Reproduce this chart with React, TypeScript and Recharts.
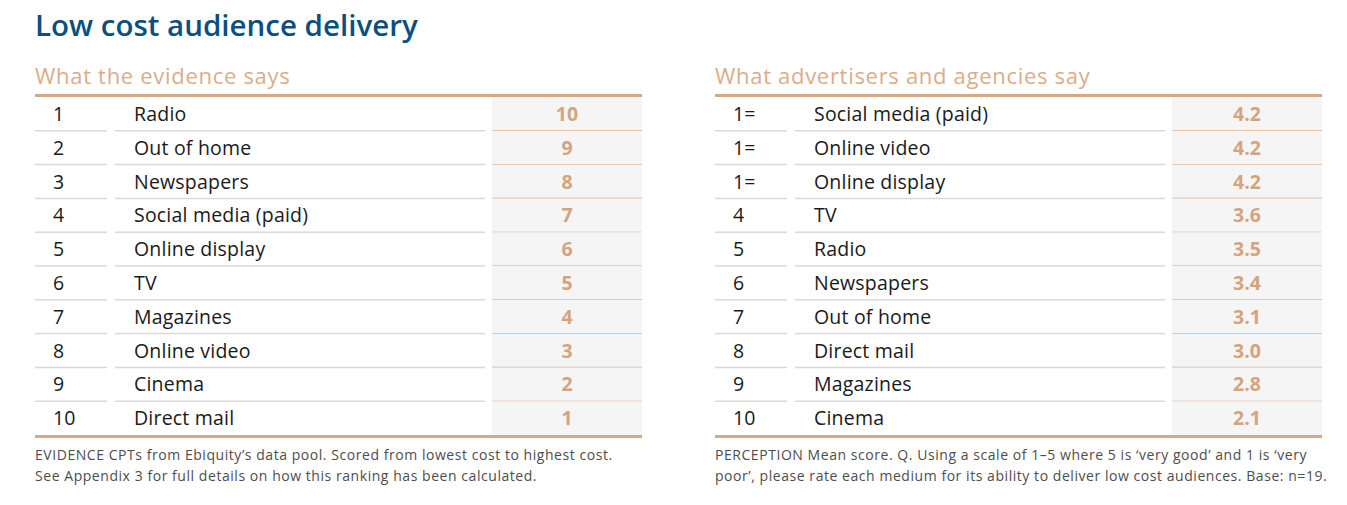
import { Bar, BarChart, XAxis, YAxis } from 'recharts';

const FONT = '"Open Sans", Lato, sans-serif';
const TAN = '#d5a886';
const GREY_LINE = '#d9d9d9';

const evidenceRanks = ['1', '2', '3', '4', '5', '6', '7', '8', '9', '10'];
const evidenceMedia = [
  'Radio',
  'Out of home',
  'Newspapers',
  'Social media (paid)',
  'Online display',
  'TV',
  'Magazines',
  'Online video',
  'Cinema',
  'Direct mail',
];
const evidenceScores = [10, 9, 8, 7, 6, 5, 4, 3, 2, 1];

const perceptionRanks = ['1=', '1=', '1=', '4', '5', '6', '7', '8', '9', '10'];
const perceptionMedia = [
  'Social media (paid)',
  'Online video',
  'Online display',
  'TV',
  'Radio',
  'Newspapers',
  'Out of home',
  'Direct mail',
  'Magazines',
  'Cinema',
];
const perceptionScores = [4.2, 4.2, 4.2, 3.6, 3.5, 3.4, 3.1, 3.0, 2.8, 2.1];

const TABLE_W = 607;
const TABLE_H = 338;
const LABEL_W = 457;

interface Row {
  rank: string;
  name: string;
  score: number;
}

function RowTick(props: any) {
  const { y, payload, rows, bandH } = props;
  const row: Row = rows[payload.index];
  const last = payload.index === rows.length - 1;
  const bottom = y + bandH / 2;
  return (
    <g>
      <text x={18} y={y} dy="0.36em" fontSize={19.5} letterSpacing={0.2} fill="#1a1a1a" fontFamily={FONT}>
        {row.rank}
      </text>
      <text x={99} y={y} dy="0.36em" fontSize={19.5} letterSpacing={0.2} fill="#1a1a1a" fontFamily={FONT}>
        {row.name}
      </text>
      {!last && (
        <>
          <line x1={0} x2={72} y1={bottom} y2={bottom} stroke={GREY_LINE} strokeWidth={1.5} />
          <line x1={80} x2={450} y1={bottom} y2={bottom} stroke={GREY_LINE} strokeWidth={1.5} />
        </>
      )}
    </g>
  );
}

function ScoreCell(props: any) {
  const { y, height, background, payload, index, decimals, count } = props;
  const bx = background.x;
  const bw = background.width;
  const last = index === count - 1;
  return (
    <g>
      <rect x={bx} y={y} width={bw} height={height} fill="#f5f5f5" />
      {!last && (
        <line x1={bx} x2={bx + bw} y1={y + height} y2={y + height} stroke={TAN} strokeWidth={1.5} />
      )}
      <text
        x={bx + bw / 2}
        y={y + height / 2}
        dy="0.36em"
        textAnchor="middle"
        fontSize={19.5}
        fontWeight={700}
        fill="#d4a47f"
        fontFamily={FONT}
      >
        {payload.score.toFixed(decimals)}
      </text>
    </g>
  );
}

function RankTable({ left, heading, ranks, media, scores, decimals, note }: {
  left: number;
  heading: string;
  ranks: string[];
  media: string[];
  scores: number[];
  decimals: number;
  note: React.ReactNode;
}) {
  const rows: Row[] = media.map((name, i) => ({ rank: ranks[i], name, score: scores[i] }));
  const bandH = TABLE_H / rows.length;
  return (
    <div style={{ position: 'absolute', left, top: 0, width: TABLE_W }}>
      <div
        style={{
          position: 'absolute',
          top: 60,
          left: 0,
          fontSize: 22,
          letterSpacing: 0.7,
          color: '#d8ae8a',
          fontFamily: FONT,
          whiteSpace: 'nowrap',
        }}
      >
        {heading}
      </div>
      <div
        style={{
          position: 'absolute',
          top: 94,
          left: 0,
          width: TABLE_W,
          borderTop: `3px solid ${TAN}`,
          borderBottom: `3px solid ${TAN}`,
        }}
      >
        <BarChart
          width={TABLE_W}
          height={TABLE_H}
          data={rows}
          layout="vertical"
          margin={{ top: 0, right: 0, bottom: 0, left: 0 }}
          barCategoryGap={0}
        >
          <XAxis type="number" hide domain={[0, 'dataMax']} />
          <YAxis
            type="category"
            dataKey="name"
            width={LABEL_W}
            axisLine={false}
            tickLine={false}
            interval={0}
            tick={<RowTick rows={rows} bandH={bandH} />}
          />
          <Bar
            dataKey="score"
            isAnimationActive={false}
            shape={<ScoreCell decimals={decimals} count={rows.length} />}
          />
        </BarChart>
      </div>
      <div
        style={{
          position: 'absolute',
          top: 444,
          left: 0,
          width: 640,
          fontSize: 14,
          letterSpacing: 0.55,
          lineHeight: '21px',
          color: '#4d4d4d',
          fontFamily: FONT,
          whiteSpace: 'nowrap',
        }}
      >
        {note}
      </div>
    </div>
  );
}

export default function App() {
  return (
    <div
      style={{
        position: 'absolute',
        left: 0,
        top: 0,
        width: 1347,
        height: 505,
        background: '#ffffff',
        fontFamily: FONT,
      }}
    >
      <div
        style={{
          position: 'absolute',
          left: 35,
          top: 4,
          fontSize: 29.5,
          fontWeight: 600,
          color: '#0b4f80',
          whiteSpace: 'nowrap',
        }}
      >
        Low cost audience delivery
      </div>
      <RankTable
        left={35}
        heading="What the evidence says"
        ranks={evidenceRanks}
        media={evidenceMedia}
        scores={evidenceScores}
        decimals={0}
        note={
          <>
            EVIDENCE CPTs from Ebiquity’s data pool. Scored from lowest cost to highest cost.
            <br />
            See Appendix 3 for full details on how this ranking has been calculated.
          </>
        }
      />
      <RankTable
        left={715}
        heading="What advertisers and agencies say"
        ranks={perceptionRanks}
        media={perceptionMedia}
        scores={perceptionScores}
        decimals={1}
        note={
          <>
            PERCEPTION Mean score. Q. Using a scale of 1–5 where 5 is ‘very good’ and 1 is ‘very
            <br />
            poor’, please rate each medium for its ability to deliver low cost audiences. Base: n=19.
          </>
        }
      />
    </div>
  );
}
